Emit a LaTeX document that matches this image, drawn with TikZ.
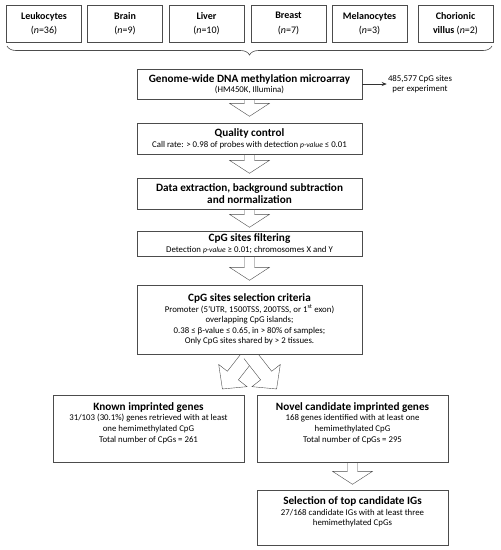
\documentclass[tikz,border=0pt]{standalone}
\usepackage{fontspec}
\setmainfont{Carlito}
\usetikzlibrary{decorations.pathreplacing,backgrounds,arrows.meta}

\newcommand{\boxtitle}[1]{{\fontsize{11.2}{12.5}\selectfont\bfseries #1}}
\newcommand{\pval}{{\fontsize{7.6}{8}\selectfont\itshape p-value}}

\tikzset{
  box/.style={draw=black!70, fill=white, align=center, inner sep=2pt,
    font=\fontsize{8.8}{10.6}\selectfont},
  tissue/.style={draw=black!70, fill=white, align=center, minimum width=75pt,
    minimum height=37pt, inner sep=1pt, font=\fontsize{10}{14.5}\selectfont},
  pics/hollow/.style n args={4}{code={
    \draw[draw=black!70, fill=white] (-#2,0) -- (-#2,-#1+#4) -- (-#3,-#1+#4) -- (0,-#1)
      -- (#3,-#1+#4) -- (#2,-#1+#4) -- (#2,0);
  }},
}

\begin{document}
\begin{tikzpicture}[x=1pt, y=1pt, line width=0.6pt]
  \useasboundingbox (0,0) rectangle (501,-550);

  % tissues
  \foreach \x/\nm/\txt in {44/leuk/{\textbf{Leukocytes}\\(\textit{n}=36)},
      125/brain/{\textbf{Brain}\\(\textit{n}=9)},
      206.5/liver/{\textbf{Liver}\\(\textit{n}=10)},
      288.5/breast/{\textbf{Breast}\\(\textit{n}=7)},
      369.5/melan/{\textbf{Melanocytes}\\(\textit{n}=3)},
      455.5/chor/{\textbf{Chorionic}\\\textbf{villus} (\textit{n}=2)}}
    \node[tissue] (\nm) at (\x,-23.5) {\txt};
  \draw[draw=black!70, decorate, decoration={brace, mirror, amplitude=9pt}] (7,-46) -- (492,-46);

  % pipeline
  \node[box, minimum width=225pt, minimum height=30pt] (genome) at (249.5,-84)
    {\boxtitle{Genome-wide DNA methylation microarray}\\(HM450K, Illumina)};
  \node[align=center, inner sep=1pt, font=\fontsize{8.8}{10.6}\selectfont] (cpgcount) at (420,-84)
    {485,577 CpG sites\\per experiment};
  \draw[black!80, -{Stealth[length=5pt, width=4pt]}] (genome.east) -- (cpgcount.west);

  \node[box, minimum width=225pt, minimum height=31pt] (qc) at (249.5,-138.5)
    {\boxtitle{Quality control}\\Call rate: > 0.98 of probes with detection \pval{} ≤ 0.01};
  \node[box, minimum width=225pt, minimum height=31pt] (extract) at (249.5,-193.5)
    {\boxtitle{Data extraction, background subtraction}\\[1.5pt]\boxtitle{and normalization}};
  \node[box, minimum width=225pt, minimum height=25pt] (filter) at (249.5,-243.5)
    {\boxtitle{CpG sites filtering}\\Detection \pval{} ≥ 0.01; chromosomes X and Y};
  \node[box, minimum width=225pt, minimum height=69pt] (crit) at (249.5,-319.5)
    {\boxtitle{CpG sites selection criteria}\\Promoter (5’UTR, 1500TSS, 200TSS, or 1\textsuperscript{st} exon)\\
     overlapping CpG islands;\\0.38 ≤ β-value ≤ 0.65, in > 80\% of samples;\\Only CpG sites shared by > 2 tissues.};

  % results
  \node[box, minimum width=191pt, minimum height=67pt] (known) at (148.5,-428.5)
    {\boxtitle{Known imprinted genes}\\31/103 (30.1\%) genes retrieved with at least\\one hemimethylated CpG\\Total number of CpGs = 261\\[2pt]};
  \node[box, minimum width=191pt, minimum height=67pt] (novel) at (352.5,-428.5)
    {\boxtitle{Novel candidate imprinted genes}\\168 genes identified with at least one\\hemimethylated CpG\\Total number of CpGs = 295\\[2pt]};
  \node[box, minimum width=191pt, minimum height=55pt] (select) at (352.5,-517.5)
    {\boxtitle{Selection of top candidate IGs}\\27/168 candidate IGs with at least three\\hemimethylated CpGs\\[2pt]};

  % hollow arrows
  \begin{scope}[on background layer]
    \pic at (genome.south) {hollow={17}{5}{20}{13}};
    \pic at (qc.south) {hollow={19}{5}{20}{13}};
    \pic at (extract.south) {hollow={18}{5}{20}{13}};
    \pic at (filter.south) {hollow={24}{5}{20}{13}};
    \pic[rotate=-38] at (crit.south) {hollow={44}{7}{18}{17}};
    \pic[rotate=38] at (crit.south) {hollow={44}{7}{18}{17}};
    \pic at (novel.south) {hollow={22}{5}{20}{13}};
  \end{scope}
\end{tikzpicture}
\end{document}
